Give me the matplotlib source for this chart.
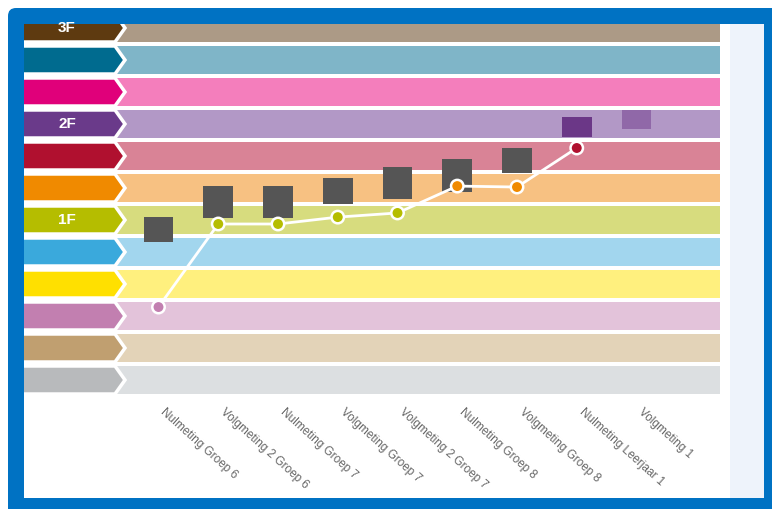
import matplotlib
matplotlib.use("Agg")
import matplotlib.pyplot as plt
from matplotlib.patches import FancyBboxPatch, Rectangle, Polygon
import matplotlib.transforms as mtransforms
import numpy as np

plt.rcParams['font.family'] = ['Liberation Sans', 'DejaVu Sans']

# ---------------- data ----------------
categories = ["Nulmeting Groep 6", "Volgmeting 2 Groep 6", "Nulmeting Groep 7",
              "Volgmeting Groep 7", "Volgmeting 2 Groep 7", "Nulmeting Groep 8",
              "Volgmeting Groep 8", "Nulmeting Leerjaar 1", "Volgmeting 1"]

# score line (in level units, 0 = bottom band)
score_values = [2.28, 4.875, 4.875, 5.09, 5.22, 6.06, 6.03, 7.25]

# range boxes (bottom / top, level units)
box_low = [4.31, 5.06, 5.06, 5.50, 5.66, 5.875, 6.47, 7.59, 7.84]
box_high = [5.09, 6.06, 6.06, 6.31, 6.66, 6.91, 7.25, 8.22, 8.44]
box_colors = ["#555555"] * 7 + ["#6b3787", "#9068a8"]

# level bands, bottom to top
level_labels = ["", "", "", "", "", "1F", "", "", "2F", "", "", "3F"]
level_dark = ["#b8babc", "#c09f70", "#c27fb0", "#ffe000", "#3aa9dc", "#b5bd00",
              "#f08a00", "#b0102f", "#6a3a8a", "#e0007a", "#006b8f", "#5e3a10"]
level_light = ["#dcdfe1", "#e3d3b8", "#e3c3da", "#fff07e", "#a2d6ee", "#d7dc7e",
               "#f7c182", "#d98396", "#b298c6", "#f47ebc", "#7fb5c8", "#ac9a86"]

# ---------------- figure / frame ----------------
W, H = 772, 509
fig = plt.figure(figsize=(W / 100, H / 100), dpi=100)
bg = fig.add_axes([0, 0, 1, 1])
bg.set_xlim(0, W)
bg.set_ylim(H, 0)
bg.axis('off')
bg.add_patch(FancyBboxPatch((8, 8), W - 8 + 10, H - 8 + 10,
                            boxstyle="round,pad=0,rounding_size=8",
                            facecolor="#0072c3", edgecolor="none"))
bg.add_patch(Rectangle((24, 24), 764 - 24, 498 - 24, facecolor="white", edgecolor="none"))
bg.add_patch(Rectangle((730, 24), 764 - 730, 498 - 24, facecolor="#eef3fb", edgecolor="none"))

# ---------------- data axes ----------------
px0, px1 = 24, 720          # axes pixel span x
py_top, py_bot = 24, 396    # axes pixel span y
cat0_px, cat_step = 158.5, 59.75
lvl0_px, lvl_step = 380, 32

ax = fig.add_axes([px0 / W, (H - py_bot) / H, (px1 - px0) / W, (py_bot - py_top) / H])
xl = (px0 - cat0_px) / cat_step
xr = (px1 - cat0_px) / cat_step
yb = (lvl0_px - py_bot) / lvl_step
yt = (lvl0_px - py_top) / lvl_step
ax.set_xlim(xl, xr)
ax.set_ylim(yb, yt)
ax.patch.set_alpha(0)
for s in ax.spines.values():
    s.set_visible(False)

levels = np.arange(len(level_dark))
band_h = 0.875
band_start = (100 - cat0_px) / cat_step
ax.barh(levels, xr - band_start + 1, left=band_start, height=band_h,
        color=level_light, zorder=1)

arrow_body = (115 - cat0_px) / cat_step
arrow_tip = (125 - cat0_px) / cat_step
for lv, col, lab in zip(levels, level_dark, level_labels):
    hh = band_h / 2
    poly = Polygon([(xl - 1, lv - hh), (arrow_body, lv - hh), (arrow_tip, lv),
                    (arrow_body, lv + hh), (xl - 1, lv + hh)], closed=True,
                   facecolor=col, edgecolor="white", linewidth=2.5, zorder=2,
                   joinstyle='miter')
    ax.add_patch(poly)
    if lab:
        ax.text((67 - cat0_px) / cat_step, lv, lab, color="white", fontsize=11,
                fontweight='bold', ha='center', va='center', zorder=3,
                family=['Liberation Sans', 'DejaVu Sans'])

# boxes
xc = np.arange(len(categories))
ax.bar(xc, np.array(box_high) - np.array(box_low), bottom=box_low, width=0.5,
       color=box_colors, zorder=3)

# score line
xs = np.arange(len(score_values))
pt_cols = [level_dark[int(round(v))] for v in score_values]
ax.plot(xs, score_values, color="white", lw=2, zorder=4)
ax.scatter(xs, score_values, s=80, c=pt_cols, edgecolors="white", linewidths=1.8, zorder=5)

ax.set_yticks([])
ax.set_xticks(xc)
ax.set_xticklabels(categories, rotation=-42, ha='left', va='top',
                   rotation_mode='anchor', fontsize=8.5, color="#666666")
ax.tick_params(axis='x', length=0, pad=7)
shift = mtransforms.ScaledTranslation(8 / 100, 0, fig.dpi_scale_trans)
for lbl in ax.get_xticklabels():
    lbl.set_transform(lbl.get_transform() + shift)

fig.savefig("out.png", dpi=100)
